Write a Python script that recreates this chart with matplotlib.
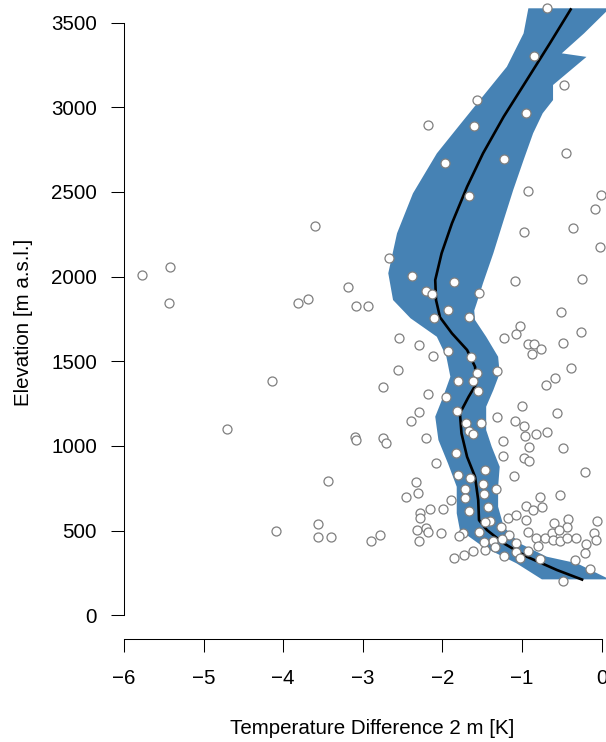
import matplotlib
matplotlib.use('Agg')
import matplotlib.pyplot as plt

plt.rcParams['font.family'] = ['Liberation Sans', 'DejaVu Sans']

# observations: temperature difference [K] vs elevation [m]
obs_x = [-5.78, -5.42, -5.43, -3.60, -3.18, -3.81, -3.69, -3.09, -2.93,
         -4.14, -4.71, -3.10, -3.08, -3.44, -4.09, -3.56, -3.56, -3.40, -2.90,
         -0.68, -0.85, -0.47, -1.57, -2.18, -1.60, -0.95, -0.45, -1.97, -1.22,
         -1.66, -0.93, -0.01, -0.08, -0.98, -0.36, -0.02, -2.67, -2.38, -1.85,
         -2.20, -2.13, -1.54, -1.09, -0.24, -1.93, -2.11, -1.66, -0.51,
         -1.02, -1.08, -1.22, -0.26, -2.54, -2.29, -0.92, -0.85, -0.76, -0.87,
         -0.48, -1.93, -2.12, -1.64, -0.39, -2.56, -1.31, -1.56, -1.81, -1.61,
         -0.58, -0.70, -2.75, -2.18, -1.96, -1.55, -1.00, -0.56, -2.29, -2.39,
         -1.82, -1.32, -1.70, -1.51, -1.67, -1.61, -1.09, -0.98, -0.96, -0.82,
         -0.69, -2.74, -2.71, -2.20, -1.24, -0.91, -0.48, -1.83, -1.24, -0.98,
         -0.91, -2.08, -0.21, -1.46, -1.81, -1.65, -1.10, -2.33, -1.49, -1.33,
         -1.71, -2.31, -2.46, -1.48, -1.72, -0.52, -0.77, -1.89, -1.43, -0.95,
         -0.75, -0.86, -2.15, -1.99, -1.66, -2.28, -2.28, -1.18, -1.08, -0.95,
         -1.40, -1.46, -0.42, -0.60, -0.06, -0.43, -1.26, -2.32, -2.21, -2.18,
         -2.02, -1.74, -1.79, -1.54, -2.78, -2.29, -0.92, -1.16, -0.82, -0.71,
         -0.62, -0.54, -0.61, -0.52, -0.44, -0.32, -0.09, -0.07, -0.19, -0.21,
         -0.33, -0.14, -0.48, -0.77, -0.92, -0.80, -1.07, -1.07, -1.03, -1.23,
         -1.36, -1.34, -1.46, -1.48, -1.25, -1.62, -1.73, -1.86]
obs_y = [2008, 2055, 1842, 2301, 1940, 1842, 1868, 1828, 1828,
         1382, 1102, 1051, 1035, 791, 499, 537, 464, 460, 440,
         3585, 3303, 3132, 3043, 2894, 2888, 2965, 2732, 2673, 2693,
         2474, 2504, 2482, 2401, 2262, 2285, 2173, 2108, 2002, 1968,
         1915, 1897, 1901, 1976, 1984, 1805, 1754, 1763, 1789,
         1708, 1663, 1639, 1671, 1639, 1596, 1602, 1602, 1571, 1541,
         1608, 1562, 1531, 1523, 1462, 1450, 1442, 1431, 1383, 1385,
         1403, 1362, 1346, 1305, 1291, 1326, 1238, 1196, 1199, 1145,
         1208, 1169, 1137, 1134, 1090, 1069, 1149, 1119, 1057, 1069,
         1080, 1049, 1019, 1045, 1031, 994, 989, 958, 942, 930,
         909, 897, 846, 859, 828, 809, 822, 789, 777, 744,
         744, 720, 700, 714, 694, 712, 700, 682, 641, 647,
         641, 621, 626, 626, 614, 602, 576, 576, 590, 562,
         556, 552, 570, 545, 556, 519, 519, 503, 515, 491,
         484, 487, 470, 490, 474, 440, 490, 472, 456, 456,
         487, 503, 442, 440, 456, 456, 487, 444, 419, 366,
         326, 275, 202, 330, 381, 411, 425, 375, 340, 348,
         440, 401, 387, 431, 448, 381, 354, 336]

# fitted profile
fit_x = [-0.38, -0.65, -0.94, -1.23, -1.49, -1.69, -1.88, -2.01, -2.09, -2.08,
         -2.03, -1.88, -1.69, -1.59, -1.57, -1.67, -1.78, -1.76, -1.69, -1.59,
         -1.55, -1.54, -1.44, -1.23, -0.94, -0.56, -0.23]
fit_y = [3585, 3378, 3161, 2945, 2728, 2531, 2315, 2138, 1980, 1862,
         1760, 1665, 1567, 1468, 1370, 1291, 1193, 1074, 936, 818,
         680, 562, 503, 425, 346, 267, 208]

# uncertainty band: left and right edges
band_left_x = [-0.92, -0.98, -1.19, -1.53, -1.80, -2.07, -2.37, -2.57, -2.68, -2.62,
               -2.40, -2.07, -1.95, -1.90, -1.99, -2.09, -2.05, -1.93, -1.82, -1.82,
               -1.78, -1.49, -1.07, -0.75]
band_left_y = [3585, 3437, 3240, 3043, 2886, 2728, 2492, 2256, 2020, 1862,
               1754, 1645, 1527, 1409, 1291, 1173, 1035, 897, 759, 602,
               503, 405, 307, 212]
band_right_x = [0.10, -0.22, -0.50, -0.19, -0.61, -0.61, -0.74, -0.86, -0.98, -1.11,
                -1.23, -1.36, -1.49, -1.57, -1.60, -1.59, -1.45, -1.30, -1.28, -1.36,
                -1.45, -1.45, -1.38, -1.28, -1.30, -1.30, -1.23, -1.03, -0.69, -0.31,
                0.10]
band_right_y = [3585, 3437, 3319, 3298, 3132, 3043, 2965, 2847, 2689, 2512,
                2334, 2138, 1961, 1842, 1800, 1744, 1645, 1527, 1429, 1330,
                1232, 1094, 995, 877, 759, 641, 523, 425, 346, 307,
                212]

x_ticks = [-6, -5, -4, -3, -2, -1, 0]
y_ticks = [0, 500, 1000, 1500, 2000, 2500, 3000, 3500]

fig = plt.figure(figsize=(6.06, 7.42), dpi=100)
W, H = 606, 742
ax = fig.add_axes([124 / W, (H - 639.3) / H, (W - 124) / W, 639.3 / H])

poly_x = band_left_x + band_right_x[::-1]
poly_y = band_left_y + band_right_y[::-1]
ax.fill(poly_x, poly_y, color='#4682B4', lw=0, zorder=1)
ax.plot(fit_x, fit_y, color='black', lw=1.9, zorder=2, solid_capstyle='butt')
ax.scatter(obs_x, obs_y, s=42, facecolor='white', edgecolor='#7f7f7f',
           linewidth=0.9, zorder=3)

ax.set_xlim(-6, -6 + (W - 124) / 79.6)
ax.set_ylim(-142, 3634)
for s in ('top', 'right'):
    ax.spines[s].set_visible(False)
ax.spines['bottom'].set_bounds(-6, 0)
ax.spines['left'].set_bounds(0, 3500)
for s in ('bottom', 'left'):
    ax.spines[s].set_linewidth(0.75)
ax.set_xticks(x_ticks)
ax.set_yticks(y_ticks)
ax.tick_params(axis='both', length=9.4, width=0.75, labelsize=14.8, direction='out')
ax.tick_params(axis='x', pad=12)
ax.tick_params(axis='y', pad=10)

fig.text(372 / W, 1 - 728 / H, 'Temperature Difference 2 m [K]', ha='center',
         va='center', fontsize=14.8)
fig.text(24 / W, 1 - 322 / H, 'Elevation [m a.s.l.]', ha='center', va='center',
         rotation=90, fontsize=14.8)

fig.savefig('out.png', dpi=100)
